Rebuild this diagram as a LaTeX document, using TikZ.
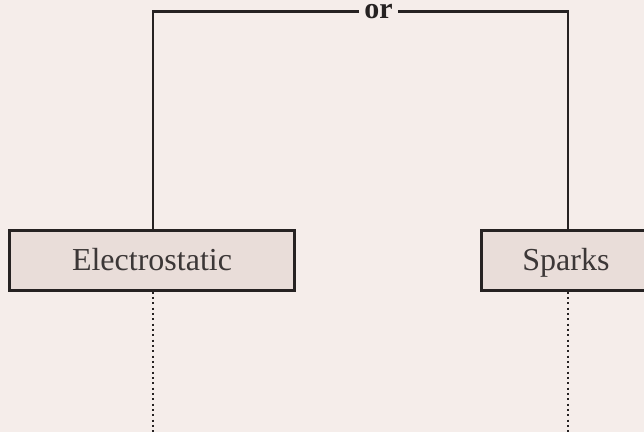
\documentclass[tikz,border=0pt]{standalone}
\usepackage{fontspec}
\setmainfont{Liberation Serif}
\usepackage{tikz}
\usetikzlibrary{positioning}
\usepackage{xcolor}

\definecolor{paper}{RGB}{245,237,234}
\definecolor{boxfill}{RGB}{233,221,217}
\definecolor{ink}{RGB}{38,34,34}
\definecolor{textgray}{RGB}{60,55,55}

\begin{document}
\begin{tikzpicture}[
    x=1pt, y=-1pt,
    font=\fontsize{32}{38}\selectfont,
    box/.style={draw=ink, line width=2.6pt, fill=boxfill, text=textgray,
                minimum height=60pt, text height=21.2pt, text depth=0pt,
                inner sep=0pt, align=center},
    orlabel/.style={font=\fontsize{30}{36}\selectfont\bfseries, text=ink,
                    text height=13.8pt, text depth=0pt, inner xsep=5pt,
                    inner ysep=0pt},
    link/.style={draw=ink, line width=2.6pt},
    dotline/.style={draw=ink, line width=2pt, dash pattern=on 2pt off 3.33pt}
]

\fill[paper] (0,0) rectangle (644,432);
\useasboundingbox (0,0) rectangle (644,432);

% --- the two boxes ---
\node[box, minimum width=284.7pt] (elec) at (152,260.3) {Electrostatic};
\node[box, minimum width=169.4pt] (sparks) at (566,260.3) {Sparks};

% --- the "or" join ---
\node[orlabel] (or) at (378.5,11.5) {or};
\coordinate (electop) at (153,0 |- elec.north);
\coordinate (sparkstop) at (568,0 |- sparks.north);

\draw[link] (or.west) -| (electop);
\draw[link] (or.east) -| (sparkstop);

% --- dotted continuations ---
\coordinate (elecend) at (153,432);
\coordinate (sparksend) at (568,432);
\draw[dotline] (elec.south -| elecend) -- (elecend);
\draw[dotline] (sparks.south -| sparksend) -- (sparksend);

\end{tikzpicture}
\end{document}
